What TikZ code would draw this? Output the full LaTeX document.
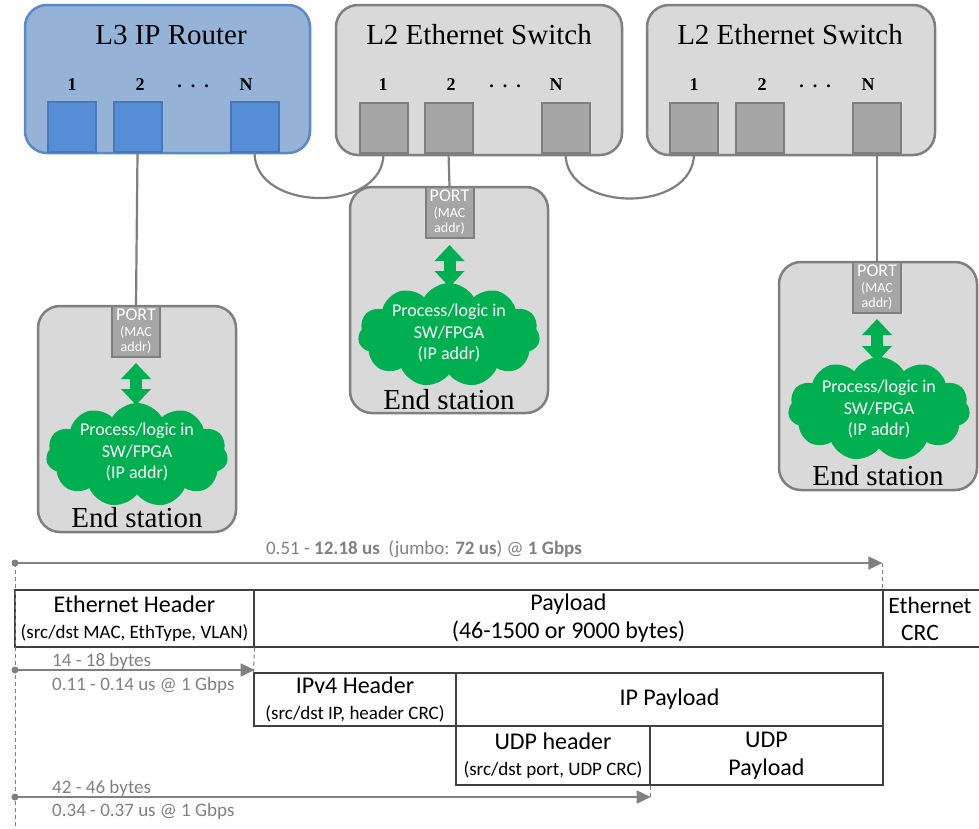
\documentclass[tikz,border=0pt]{standalone}
\usepackage{fontspec}
\setmainfont{Liberation Serif}
\newfontfamily\carl{Carlito}
\usetikzlibrary{arrows.meta,shapes.symbols,calc}
\definecolor{rtfill}{HTML}{95B3D7}
\definecolor{rtdraw}{HTML}{5B89C8}
\definecolor{rpfill}{HTML}{558ED5}
\definecolor{rpdraw}{HTML}{4677BA}
\definecolor{swfill}{HTML}{D9D9D9}
\definecolor{swdraw}{HTML}{7F7F7F}
\definecolor{spfill}{HTML}{A6A6A6}
\definecolor{linkgray}{HTML}{7F7F7F}
\definecolor{procgreen}{HTML}{00B050}
\definecolor{cellgray}{HTML}{404040}
\definecolor{lblgray}{HTML}{808080}
\begin{document}
\begin{tikzpicture}[x=1pt,y=-1pt,
  device/.style={rectangle, rounded corners=22pt, line width=2.5pt, inner sep=0pt},
  router/.style={device, fill=rtfill, draw=rtdraw},
  switchbox/.style={device, fill=swfill, draw=swdraw},
  rport/.style={rectangle, fill=rpfill, draw=rpdraw, line width=2pt, minimum width=48pt, minimum height=50pt, inner sep=0pt},
  sport/.style={rectangle, fill=spfill, draw=swdraw, line width=2pt, minimum width=48pt, minimum height=50pt, inner sep=0pt},
  title/.style={font=\fontsize{29}{30}\selectfont},
  portnum/.style={font=\bfseries\fontsize{18}{18}\selectfont},
  link/.style={draw=linkgray, line width=2.2pt},
  puff/.style={cloud, cloud puffs=11, cloud puff arc=120, fill=procgreen, draw=none, minimum width=182pt, minimum height=104pt, inner sep=0pt},
  cloudtext/.style={text=white, font=\carl\fontsize{18}{21.5}\selectfont, align=center},
  porttext/.style={text=white, font=\carl\fontsize{14}{15.5}\selectfont, align=center, inner sep=0pt},
  dbl/.style={draw=procgreen, line width=12pt, {Triangle[width=29pt,length=16pt]}-{Triangle[width=29pt,length=16pt]}},
  cell/.style={rectangle, draw=cellgray, line width=1.3pt, inner sep=0pt, align=center, font=\carl\fontsize{19}{26}\selectfont},
  bigcell/.style={cell, font=\carl\fontsize{24}{28}\selectfont},
  meas/.style={draw=lblgray, line width=1.8pt, -{Triangle[width=13pt,length=14pt]}},
  guide/.style={draw=lblgray, line width=1pt, dash pattern=on 4pt off 3pt},
  gaplabel/.style={text=lblgray, font=\carl\fontsize{19}{20}\selectfont, inner sep=0pt}
]
\useasboundingbox (0,0) rectangle (979,828);

% ---------- devices ----------
\node[router, minimum width=285pt, minimum height=148pt] (R) at (167.5,79) {};
\node[switchbox, minimum width=286pt, minimum height=150pt] (A) at (479,80) {};
\node[switchbox, minimum width=288pt, minimum height=150pt] (B) at (791,80) {};

\node[title] (Rt) at (171,35) {L3 IP Router};
\node[title] (At) at (479,35) {L2 Ethernet Switch};
\node[title] (Bt) at (790,35) {L2 Ethernet Switch};

% router ports
\node[rport] (R1) at (72,127) {};
\node[rport] (R2) at (137.5,127) {};
\node[rport] (RN) at (254.5,126.5) {};
\node[portnum] (R1n) at (72,85) {1};
\node[portnum] (R2n) at (140,85) {2};
\node[portnum] (Rdd) at (193,86) {.\ \ .\ \ .};
\node[portnum] (RNn) at (246,85) {N};

% first switch ports
\node[sport] (A1) at (383.5,127.5) {};
\node[sport] (A2) at (448.5,127.5) {};
\node[sport] (AN) at (565.5,127.5) {};
\node[portnum] (A1n) at (383,85) {1};
\node[portnum] (A2n) at (451,85) {2};
\node[portnum] (Add) at (505,86) {.\ \ .\ \ .};
\node[portnum] (ANn) at (556,85) {N};

% second switch ports
\node[sport] (B1) at (694,127.5) {};
\node[sport] (B2) at (760,127.5) {};
\node[sport] (BN) at (877,127.5) {};
\node[portnum] (B1n) at (694,85) {1};
\node[portnum] (B2n) at (762,85) {2};
\node[portnum] (Bdd) at (815,86) {.\ \ .\ \ .};
\node[portnum] (BNn) at (868,85) {N};

% ---------- end stations ----------
\node[switchbox, minimum width=198pt, minimum height=226pt] (E1) at (137,419) {};
\node[switchbox, minimum width=198pt, minimum height=226pt] (E2) at (449,300) {};
\node[switchbox, minimum width=198pt, minimum height=228pt] (E3) at (878,376) {};

\node[sport, minimum height=51pt] (P1) at (136,331.5) {};
\node[sport, minimum height=51pt] (P2) at (449.5,212.5) {};
\node[sport, minimum height=51pt] (P3) at (877,287.5) {};

\foreach \p in {P1,P2,P3}{
  \node[porttext, anchor=north] (\p txt) at ([yshift=-4pt]\p.north)
    {{\fontsize{18}{18}\selectfont PORT}\\(MAC\\addr)};
}

\node[puff] (C1) at (137,455) {};
\node[puff] (C2) at (449,335) {};
\node[puff] (C3) at (879,409) {};
\node[cloudtext] (C1t) at (137,452) {Process/logic in\\SW/FPGA\\(IP addr)};
\node[cloudtext] (C2t) at (449,333) {Process/logic in\\SW/FPGA\\(IP addr)};
\node[cloudtext] (C3t) at (879,409) {Process/logic in\\SW/FPGA\\(IP addr)};

\draw[dbl] ([yshift=-5pt]P1.south) -- ([yshift=-47pt]P1.south);
\draw[dbl] ([yshift=-6pt]P2.south) -- ([yshift=-48pt]P2.south);
\draw[dbl] ([yshift=-5pt]P3.south) -- ([yshift=-48pt]P3.south);

\node[title] (E1t) at (137,518) {End station};
\node[title] (E2t) at (449,400) {End station};
\node[title] (E3t) at (878,476) {End station};

% ---------- cabling ----------
\draw[link] (R2.south) -- (P1.north);
\draw[link] (RN.south) .. controls +(0,60) and +(0,60) .. (A1.south);
\draw[link] (A2.south) -- (P2.north);
\draw[link] (AN.south) .. controls +(0,60) and +(0,60) .. (B1.south);
\draw[link] (BN.south) -- (P3.north);

% ---------- frame layout ----------
\node[cell, minimum width=239pt, minimum height=57pt] (ethh) at (134.5,618.5)
  {{\fontsize{24}{24}\selectfont Ethernet Header}\\(src/dst MAC, EthType, VLAN)};
\node[bigcell, minimum width=629pt, minimum height=57pt] (pay) at (568.5,618.5)
  {Payload\\(46-1500 or 9000 bytes)};
\node[cell, minimum width=110pt, minimum height=57pt] (crc) at (938,618.5) {};
\node[font=\carl\fontsize{23.5}{23.5}\selectfont, inner sep=0pt] (crc1) at (930,605) {Ethernet};
\node[font=\carl\fontsize{23.5}{23.5}\selectfont, inner sep=0pt] (crc2) at (920,633) {CRC};

\node[cell, minimum width=202pt, minimum height=53pt] (ipv4h) at (355,699.5)
  {{\fontsize{24}{24}\selectfont IPv4 Header}\\(src/dst IP, header CRC)};
\node[bigcell, minimum width=427pt, minimum height=53pt] (ippay) at (669.5,699.5)
  {IP Payload};
\node[cell, minimum width=194pt, minimum height=59pt] (udph) at (553,755.5)
  {{\fontsize{24}{24}\selectfont UDP header}\\(src/dst port, UDP CRC)};
\node[bigcell, minimum width=233pt, minimum height=59pt] (udppay) at (766.5,755.5)
  {UDP\\Payload};

% ---------- timing / size markers ----------
\coordinate (t0) at (15,563);
\coordinate (h0) at (15,670);
\coordinate (u0) at (15,797);
\coordinate (bot) at (15,828);

\draw[guide] (t0) -- (bot);
\draw[guide] (t0 -| crc.west) -- (crc.north west);
\draw[guide] (ethh.south east) -- (ipv4h.north west);
\draw[guide] (udph.south east) -- (u0 -| udph.east);

\draw[meas] (t0) -- (t0 -| crc.west);
\draw[meas] (h0) -- (h0 -| ethh.east);
\draw[meas] (u0) -- (u0 -| udph.east);
\fill[lblgray] (t0) circle (3.5pt);
\fill[lblgray] (h0) circle (3.5pt);
\fill[lblgray] (u0) circle (3.5pt);

\node[gaplabel] (tl) at (424,549)
  {0.51 - \textbf{12.18 us}\ \ (jumbo: \textbf{72 us}) @ \textbf{1 Gbps}};
\node[gaplabel, anchor=west] (hl1) at (52,661) {14 - 18 bytes};
\node[gaplabel, anchor=west] (hl2) at (52,685) {0.11 - 0.14 us @ 1 Gbps};
\node[gaplabel, anchor=west] (ul1) at (52,788) {42 - 46 bytes};
\node[gaplabel, anchor=west] (ul2) at (52,811) {0.34 - 0.37 us @ 1 Gbps};
\end{tikzpicture}
\end{document}
